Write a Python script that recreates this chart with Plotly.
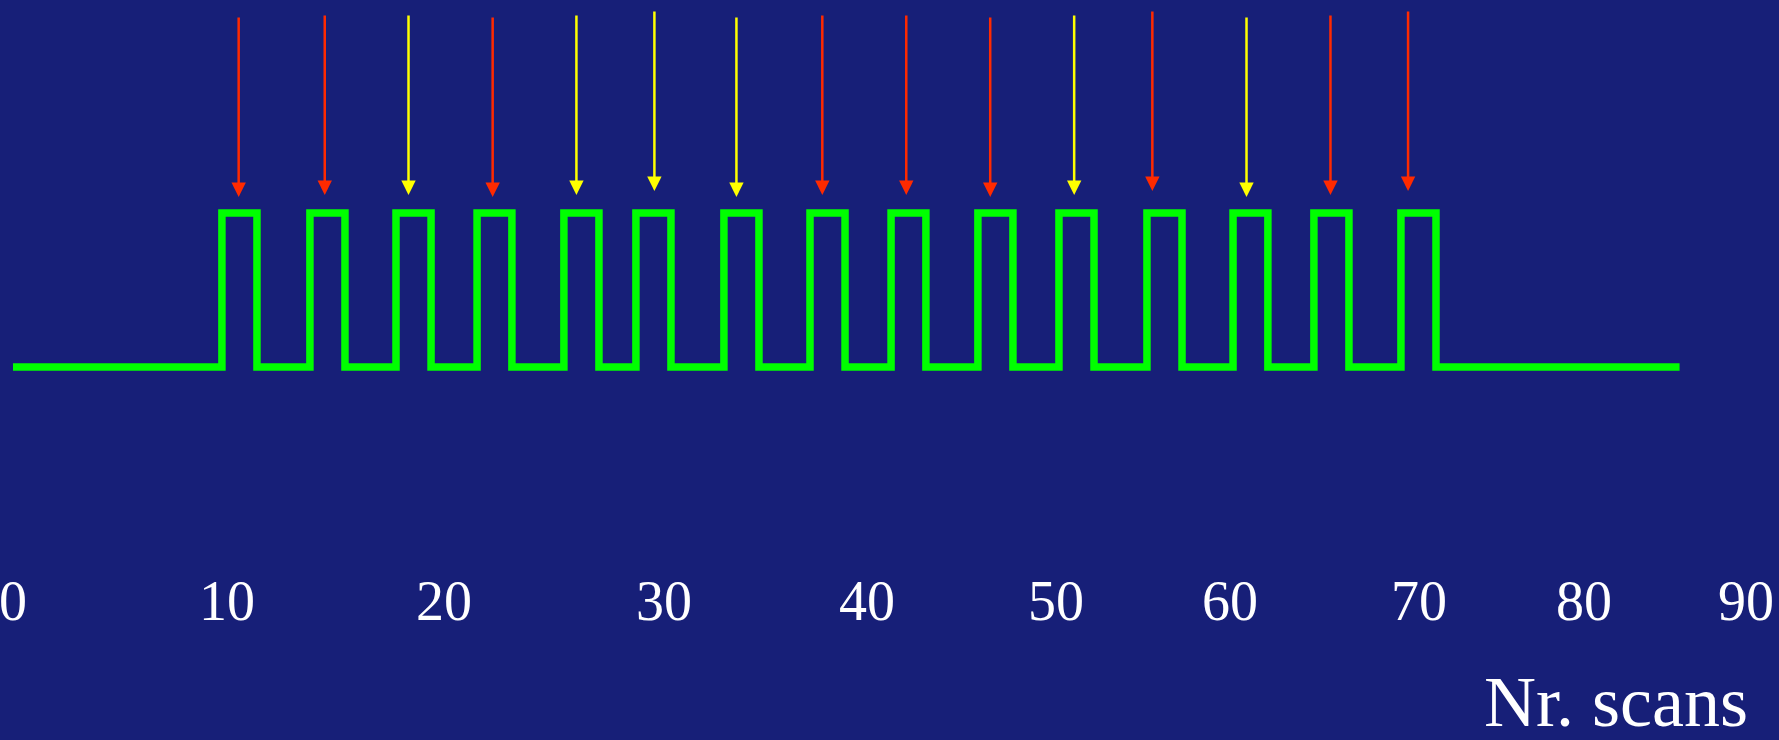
import plotly.graph_objects as go

# ---- data (x in scan units, y: 0 = rest, 1 = stimulation) ----
baseline_start = 0.0
baseline_end = 86.55
block_on = [10.85, 15.42, 19.89, 24.10, 28.61, 32.35, 36.92, 41.39,
            45.60, 50.11, 54.32, 58.89, 63.36, 67.56, 72.08]
block_off = [12.67, 17.24, 21.71, 25.91, 30.43, 34.17, 38.74, 43.21,
             47.41, 51.93, 56.14, 60.71, 65.17, 69.38, 73.90]

arrow_x = [11.72, 16.19, 20.54, 24.91, 29.26, 33.31, 37.57, 42.03,
           46.39, 50.75, 55.11, 59.17, 64.06, 68.42, 72.45]
arrow_top = [2.279, 2.292, 2.292, 2.279, 2.292, 2.318, 2.279, 2.292,
             2.292, 2.279, 2.292, 2.318, 2.279, 2.292, 2.318]
arrow_tip = [1.104, 1.117, 1.117, 1.104, 1.117, 1.143, 1.104, 1.117,
             1.117, 1.104, 1.117, 1.143, 1.104, 1.117, 1.143]
arrow_cond = ["A", "A", "B", "A", "B", "B", "B", "A",
              "A", "A", "B", "A", "B", "A", "A"]

tick_labels = ["0", "10", "20", "30", "40", "50", "60", "70", "80", "90"]
tick_positions = [0, 11.11, 22.38, 33.81, 44.35, 54.16, 63.20, 73.02, 81.59, 90]

x_title = "Nr. scans"

# ---- build ----
xs = [baseline_start]
ys = [0]
for on, off in zip(block_on, block_off):
    xs += [on, off]
    ys += [1, 0]
xs.append(baseline_end)
ys.append(0)

BG = "#171F78"
cond_color = {"A": "#FF2A00", "B": "#FFFF00"}

fig = go.Figure()
fig.add_trace(go.Scatter(x=xs, y=ys, mode="lines", line_shape="hv",
                         line=dict(color="#00FF00", width=7.5),
                         hoverinfo="skip", showlegend=False))

for xa, yt, yb, c in zip(arrow_x, arrow_top, arrow_tip, arrow_cond):
    fig.add_annotation(x=xa, y=yb, ax=xa, ay=yt, xref="x", yref="y",
                       axref="x", ayref="y", text="", showarrow=True,
                       arrowhead=2, arrowsize=1.15, arrowwidth=2.5,
                       arrowcolor=cond_color[c], standoff=0)

fig.add_annotation(text=x_title, xref="paper", yref="paper",
                   x=1750 / 1779, y=(570 - 702) / 570,
                   xanchor="right", yanchor="middle", showarrow=False,
                   font=dict(family="Liberation Serif", size=72, color="white"))

fig.update_layout(
    width=1779, height=740,
    margin=dict(l=0, r=0, t=0, b=170),
    paper_bgcolor=BG, plot_bgcolor=BG,
    xaxis=dict(range=[-13 / 19.256, 90 + 33 / 19.256],
               tickvals=tick_positions, ticktext=tick_labels,
               tickfont=dict(family="Liberation Serif", size=56, color="white"),
               ticklabeloverflow="allow", ticklabelstandoff=-7,
               showgrid=False, zeroline=False, showline=False, ticks=""),
    yaxis=dict(range=[-1.318, 2.383], visible=False, showgrid=False,
               zeroline=False),
)

fig.write_html("out.html",
               config={"displayModeBar": False},
               post_script="document.body.style.margin='0';"
                           "document.body.style.background='#171F78';"
                           "document.body.style.overflow='hidden';")
